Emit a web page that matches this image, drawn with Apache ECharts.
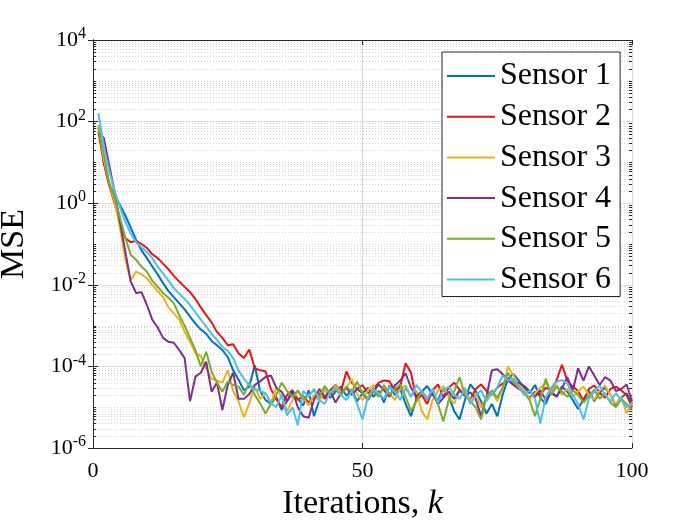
<!DOCTYPE html>
<html>
<head>
<meta charset="utf-8">
<title>MSE per sensor</title>
<script src="https://cdn.jsdelivr.net/npm/echarts@6/dist/echarts.min.js"></script>
<style>
  html, body { margin: 0; padding: 0; background: #fff; }
  #main { width: 700px; height: 525px; }
</style>
</head>
<body>
<div id="main"></div>
<script>
// iterations k = 1..100
var iterations = [];
for (var i = 1; i <= 100; i++) iterations.push(i);

var sensorNames = ['Sensor 1', 'Sensor 2', 'Sensor 3', 'Sensor 4', 'Sensor 5', 'Sensor 6'];
var sensorColors = ['#0072BD', '#EE1111', '#EDB120', '#7E2F8E', '#77AC30', '#4DBEEE'];

var sensor1 = [
  80, 10, 2.8, 1.6, 0.9, 0.5, 0.25, 0.126, 0.07, 0.045,
  0.028, 0.018, 0.011, 0.007, 0.005, 0.0035, 0.0025, 0.00166, 0.00112, 0.0008,
  6.3e-4, 4.2e-4, 3.3e-4, 2.5e-4, 1.7e-4, 8e-5, 4.7e-5, 2.6e-5, 3.2e-5, 1.07e-4,
  2.5e-5, 1.5e-5, 1.2e-5, 1.8e-5, 8.5e-6, 1.4e-5, 2.2e-5, 1.6e-5, 1.1e-5, 2.6e-5,
  6e-6, 1.5e-5, 2.8e-5, 1.7e-5, 2.4e-5, 3.2e-5, 1.9e-5, 2.7e-5, 1.4e-5, 2.2e-5,
  3.0e-5, 1.8e-5, 2.5e-5, 1.3e-5, 3.4e-5, 2.0e-5, 2.8e-5, 1.2e-5, 6e-6, 1.6e-5,
  2.4e-5, 3.3e-5, 2.0e-5, 1.5e-5, 2.8e-5, 1.9e-5, 8e-6, 5e-6, 1.5e-5, 3.6e-5,
  2.5e-5, 1.4e-5, 7e-6, 1.2e-5, 6e-6, 2.0e-5, 5e-5, 6.5e-5, 4.5e-5, 3.0e-5,
  2.2e-5, 3.5e-5, 1.7e-5, 1.2e-5, 2.5e-5, 1.8e-5, 3.2e-5, 2.4e-5, 1.5e-5, 9e-6,
  1.6e-5, 2.5e-5, 1.4e-5, 2.3e-5, 3.0e-5, 2.0e-5, 1.1e-5, 1.7e-5, 2.2e-5, 1.2e-5
];
var sensor2 = [
  56, 10, 2.8, 1.0, 0.35, 0.14, 0.11, 0.12, 0.1, 0.08,
  0.056, 0.045, 0.033, 0.024, 0.0166, 0.012, 0.0089, 0.0066, 0.0045, 0.0028,
  0.0018, 0.0012, 7e-4, 5e-4, 3.3e-4, 3.5e-4, 2.1e-4, 1.6e-4, 2.6e-4, 9e-5,
  8e-5, 7.6e-5, 2.8e-5, 1.6e-5, 1.0e-5, 2.0e-5, 2.6e-5, 1.5e-5, 1.9e-5, 1.3e-5,
  1.8e-5, 2.2e-5, 1.6e-5, 2.6e-5, 3.5e-5, 2.4e-5, 7.5e-5, 4.0e-5, 2.8e-5, 3.5e-5,
  2.2e-5, 2.8e-5, 4.0e-5, 4.5e-5, 4.3e-5, 2.5e-5, 3.2e-5, 1.2e-4, 7e-5, 1.5e-5,
  2.0e-5, 1.2e-5, 2.6e-5, 3.6e-5, 1.8e-5, 3.0e-5, 4.0e-5, 2.7e-5, 1.9e-5, 1.5e-5,
  2.8e-5, 3.6e-5, 2.5e-5, 2.0e-5, 3.0e-5, 3.8e-5, 4.8e-5, 3.5e-5, 2.8e-5, 2.3e-5,
  1.7e-5, 2.4e-5, 2.0e-5, 3.0e-5, 2.6e-5, 4.5e-5, 1.1e-4, 4.5e-5, 3.2e-5, 2.5e-5,
  1.4e-5, 2.8e-5, 3.4e-5, 2.3e-5, 1.7e-5, 2.8e-5, 3.2e-5, 2.6e-5, 2.0e-5, 1.0e-5
];
var sensor3 = [
  80, 12, 3.2, 1.1, 0.25, 0.04, 0.013, 0.021, 0.018, 0.0145,
  0.01, 0.007, 0.005, 0.0028, 0.002, 0.0014, 7e-4, 4e-4, 2.1e-4, 1.8e-4,
  9e-5, 5e-5, 4.5e-5, 4e-5, 8e-5, 2.5e-5, 1.4e-5, 5.6e-6, 1.26e-5, 3.2e-5,
  1.6e-5, 2.2e-5, 1.3e-5, 3.0e-5, 1.8e-5, 8e-6, 1.5e-5, 2.5e-5, 1.7e-5, 1.1e-5,
  2.0e-5, 1.4e-5, 2.7e-5, 1.9e-5, 3.4e-5, 2.3e-5, 3.0e-5, 5.0e-5, 2.1e-5, 1.5e-5,
  2.6e-5, 3.5e-5, 1.9e-5, 3.0e-5, 2.2e-5, 1.5e-5, 2.8e-5, 3.4e-5, 1.8e-5, 2.6e-5,
  8e-6, 5e-6, 1.5e-5, 2.5e-5, 3.3e-5, 1.8e-5, 1.2e-5, 2.4e-5, 3.0e-5, 1.4e-5,
  2.2e-5, 1.0e-5, 1.6e-5, 2.4e-5, 1.4e-5, 2.8e-5, 1.0e-4, 6e-5, 3.5e-5, 2.5e-5,
  1.6e-5, 2.2e-5, 3.0e-5, 4.0e-5, 2.4e-5, 3.5e-5, 2.0e-5, 2.8e-5, 1.8e-5, 2.4e-5,
  3.2e-5, 2.0e-5, 1.5e-5, 2.6e-5, 3.4e-5, 2.0e-5, 1.2e-5, 1.8e-5, 7e-6, 1.3e-5
];
var sensor4 = [
  52, 40, 8.7, 1.9, 0.35, 0.065, 0.012, 0.0063, 0.0066, 0.0032,
  0.0014, 9e-4, 5e-4, 4e-4, 3.8e-4, 2.5e-4, 1.6e-4, 1.4e-5, 5.6e-5, 7e-5,
  1.3e-4, 2.4e-5, 4e-5, 8.5e-6, 3.5e-5, 7e-5, 1.6e-5, 1.6e-5, 2.1e-5, 3.5e-5,
  4.3e-5, 5.5e-5, 6e-5, 3.0e-5, 2.4e-5, 1.4e-5, 2.6e-5, 1.0e-5, 6e-6, 5.5e-6,
  1.5e-5, 2.8e-5, 1.8e-5, 2.5e-5, 1.3e-5, 2.2e-5, 3.0e-5, 2.0e-5, 2.8e-5, 2.2e-5,
  1.5e-5, 2.4e-5, 3.6e-5, 2.6e-5, 1.8e-5, 3.4e-5, 4.5e-5, 6.8e-5, 3.0e-5, 1.8e-5,
  2.5e-5, 1.6e-5, 2.2e-5, 1.2e-5, 1.7e-5, 2.4e-5, 1.6e-5, 2.6e-5, 1.9e-5, 2.3e-5,
  1.6e-5, 6e-6, 1.8e-5, 8e-5, 8.5e-5, 6.5e-5, 4.5e-5, 3.6e-5, 4.0e-5, 3.3e-5,
  2.5e-5, 1.8e-5, 2.6e-5, 1.5e-5, 2.2e-5, 1.8e-5, 2.9e-5, 5.5e-5, 2.5e-5, 9e-5,
  4.5e-5, 1.0e-4, 6e-5, 3.5e-5, 5.5e-5, 4.5e-5, 2.5e-5, 2.8e-5, 3.6e-5, 1.4e-5
];
var sensor5 = [
  70, 16, 3.2, 1.4, 0.45, 0.14, 0.054, 0.041, 0.028, 0.021,
  0.0126, 0.0089, 0.0063, 0.0048, 0.0035, 0.0018, 0.001, 5e-4, 2.5e-4, 1.0e-4,
  2.3e-4, 7.4e-5, 4e-5, 2.4e-5, 4.3e-5, 3.5e-5, 3.2e-5, 2.0e-5, 4e-5, 2e-5,
  1.26e-5, 7e-6, 1.2e-5, 2.0e-5, 4e-5, 2.5e-5, 1.8e-5, 2.6e-5, 1.5e-5, 2.0e-5,
  2.6e-5, 1.8e-5, 3.3e-5, 2.2e-5, 2.8e-5, 1.9e-5, 3.2e-5, 2.4e-5, 4.2e-5, 2.2e-5,
  1.6e-5, 2.5e-5, 1.8e-5, 3.5e-5, 2.0e-5, 2.8e-5, 3.6e-5, 1.8e-5, 8e-6, 1.4e-5,
  2.5e-5, 1.5e-5, 2.8e-5, 1.2e-5, 4.5e-6, 1.5e-5, 2.4e-5, 5.5e-5, 2.0e-5, 1.4e-5,
  1.0e-5, 5e-6, 1.8e-5, 2.6e-5, 1.7e-5, 3.0e-5, 7e-5, 4.2e-5, 3.0e-5, 2.2e-5,
  1.5e-5, 6e-6, 1.6e-5, 5e-5, 2.0e-5, 3.2e-5, 2.4e-5, 1.8e-5, 2.6e-5, 2.0e-5,
  1.3e-5, 1.9e-5, 2.7e-5, 1.6e-5, 2.2e-5, 1.3e-5, 1.0e-5, 1.6e-5, 1.2e-5, 9e-6
];
var sensor6 = [
  160, 25, 6.3, 2.0, 0.8, 0.35, 0.18, 0.11, 0.083, 0.063,
  0.045, 0.028, 0.019, 0.0126, 0.0083, 0.006, 0.0045, 0.0032, 0.0021, 0.0014,
  9.5e-4, 6.3e-4, 4.5e-4, 3.0e-4, 2.4e-4, 1.6e-4, 8e-5, 5e-5, 3.5e-5, 2.8e-5,
  2.5e-5, 2.2e-5, 1.26e-5, 1e-5, 2e-5, 6.3e-6, 1e-5, 3.6e-6, 2.5e-5, 1.8e-5,
  2.8e-5, 1.5e-5, 1.2e-5, 2.4e-5, 3.0e-5, 2.0e-5, 1.5e-5, 2.5e-5, 1.2e-5, 5e-6,
  1.8e-5, 2.8e-5, 2.2e-5, 1.6e-5, 3.2e-5, 2.4e-5, 1.5e-5, 3.0e-5, 1.8e-5, 3.5e-5,
  2.4e-5, 1.6e-5, 2.8e-5, 1.3e-5, 2.6e-5, 3.2e-5, 2.0e-5, 1.6e-5, 2.8e-5, 1.2e-5,
  1.9e-5, 2.6e-5, 1.4e-5, 2.2e-5, 3.0e-5, 6e-5, 4.5e-5, 5e-5, 3.2e-5, 2.0e-5,
  2.6e-5, 1.6e-5, 4e-6, 1.8e-5, 3.0e-5, 4.2e-5, 4.6e-5, 3.8e-5, 2.0e-5, 1.2e-5,
  5e-6, 1.6e-5, 2.4e-5, 3.4e-5, 2.0e-5, 1.4e-5, 2.2e-5, 1.5e-5, 1.0e-5, 1.2e-5
];
var sensors = [sensor1, sensor2, sensor3, sensor4, sensor5, sensor6];

// minor grid: 2..9 in each decade, plus the odd decades (labels sit on even decades)
var minorValues = [];
for (var e = -6; e < 4; e++) {
  for (var m = 1; m <= 9; m++) {
    if (m === 1 && e % 2 === 0) continue;
    minorValues.push([0, Number(m + 'e' + e)]);
  }
}

var font = 'Liberation Serif';
var boxColor = '#262626';

var chart = echarts.init(document.getElementById('main'));

var series = sensors.map(function (d, idx) {
  return {
    name: sensorNames[idx],
    type: 'line',
    data: iterations.map(function (k, j) { return [k, d[j]]; }),
    symbol: 'none',
    lineStyle: { width: 2, color: sensorColors[idx] },
    itemStyle: { color: sensorColors[idx] },
    z: 3
  };
});

series.unshift({
  name: 'minor',
  type: 'custom',
  silent: true,
  z: 1,
  data: minorValues,
  renderItem: function (params, api) {
    var v = api.value(1);
    var l = api.coord([0, v]);
    var r = api.coord([100, v]);
    var y = Math.round(l[1]) + 0.5;
    return {
      type: 'group',
      children: [
        { type: 'line', shape: { x1: l[0], y1: y, x2: r[0], y2: y },
          style: { stroke: '#d4d4d4', lineWidth: 1, lineDash: [1, 2] } },
        { type: 'line', shape: { x1: l[0], y1: y, x2: l[0] + 3, y2: y },
          style: { stroke: boxColor, lineWidth: 1 } },
        { type: 'line', shape: { x1: r[0] - 3, y1: y, x2: r[0], y2: y },
          style: { stroke: boxColor, lineWidth: 1 } }
      ]
    };
  }
});

var option = {
  animation: false,
  backgroundColor: '#fff',
  grid: { left: 93, right: 68, top: 40, bottom: 77, containLabel: false, outerBoundsMode: 'none' },
  legend: {
    orient: 'vertical',
    left: 442,
    top: 52,
    data: sensorNames,
    icon: 'rect',
    backgroundColor: '#fff',
    borderColor: boxColor,
    borderWidth: 1,
    borderRadius: 0,
    padding: [8, 9, 1, 5],
    itemWidth: 48,
    itemHeight: 2,
    itemGap: 8.7,
    textStyle: { fontFamily: font, fontSize: 32, color: '#000', lineHeight: 29 }
  },
  xAxis: [{
    type: 'value',
    min: 0,
    max: 100,
    interval: 50,
    name: '{n|Iterations, }{k|k}',
    nameLocation: 'middle',
    nameGap: 35,
    nameTextStyle: {
      rich: {
        n: { fontFamily: font, fontSize: 34, color: '#000' },
        k: { fontFamily: font, fontSize: 34, fontStyle: 'italic', color: '#000' }
      }
    },
    axisLine: { lineStyle: { color: boxColor, width: 1 } },
    axisTick: { inside: true, length: 5, lineStyle: { color: boxColor } },
    axisLabel: { fontFamily: font, fontSize: 22, color: '#000', margin: 12 },
    splitLine: { show: true, lineStyle: { color: '#dcdcdc', width: 1 } }
  }, {
    type: 'value',
    position: 'top',
    min: 0,
    max: 100,
    interval: 50,
    axisLine: { lineStyle: { color: boxColor, width: 1 } },
    axisTick: { inside: true, length: 5, lineStyle: { color: boxColor } },
    axisLabel: { show: false },
    splitLine: { show: false }
  }],
  yAxis: [{
    type: 'log',
    logBase: 10,
    min: 1e-6,
    max: 1e4,
    interval: 2,
    name: 'MSE',
    nameLocation: 'middle',
    nameGap: 62,
    nameRotate: 90,
    nameTextStyle: { fontFamily: font, fontSize: 34, color: '#000' },
    axisLine: { show: true, lineStyle: { color: boxColor, width: 1 } },
    axisTick: { inside: true, length: 5, lineStyle: { color: boxColor } },
    axisLabel: {
      margin: 7,
      formatter: function (v) {
        return '{b|10}{s|' + Math.round(Math.log10(v)) + '}';
      },
      rich: {
        b: { fontFamily: font, fontSize: 22, color: '#000' },
        s: { fontFamily: font, fontSize: 16, color: '#000', padding: [0, 0, 12, 0] }
      }
    },
    splitLine: { show: true, lineStyle: { color: '#dcdcdc', width: 1 } }
  }, {
    type: 'log',
    logBase: 10,
    position: 'right',
    min: 1e-6,
    max: 1e4,
    interval: 2,
    axisLine: { show: true, lineStyle: { color: boxColor, width: 1 } },
    axisTick: { inside: true, length: 5, lineStyle: { color: boxColor } },
    axisLabel: { show: false },
    splitLine: { show: false }
  }],
  series: series
};

chart.setOption(option);
</script>
</body>
</html>
